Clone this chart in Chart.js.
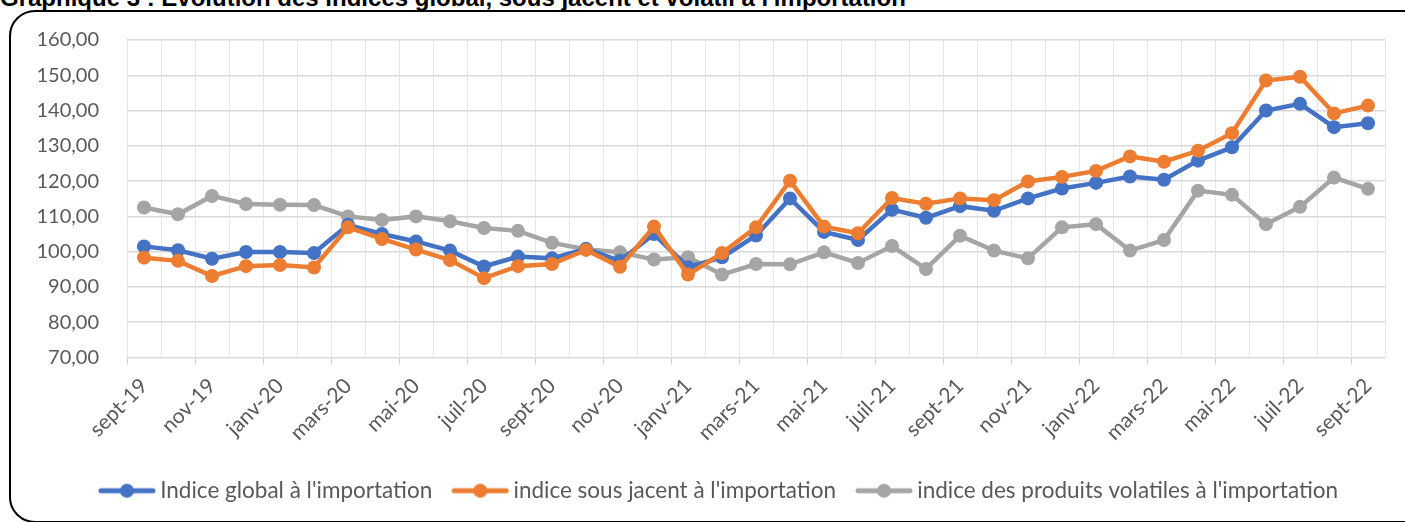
<!DOCTYPE html>
<html>
<head>
<meta charset="utf-8">
<script src="https://cdn.jsdelivr.net/npm/chart.js@4"></script>
<style>
  html, body { margin: 0; padding: 0; background: #fff; overflow: hidden; }
  body { width: 1405px; height: 522px; position: relative; }
  #title {
    position: absolute; left: 0; top: -16px; white-space: pre; line-height: 26px;
    font: bold 24px "Liberation Sans", Arial, sans-serif; color: #000;
  }
  #frame {
    position: absolute; left: 9px; top: 10px; width: 1420px; height: 513px;
    border: 2.5px solid #000; border-radius: 26px; box-sizing: border-box;
  }
  #wrap { position: absolute; left: 0; top: 0; width: 1405px; height: 522px; }
</style>
</head>
<body>
<div id="title">Graphique 3 : Evolution des indices global, sous jacent et volatil à l'importation</div>
<div id="frame"></div>
<div id="wrap"><canvas id="chart" width="1405" height="522"></canvas></div>
<script>
const months = [
  'sept-19', 'oct-19', 'nov-19', 'déc-19', 'janv-20', 'févr-20', 'mars-20', 'avr-20', 'mai-20', 'juin-20',
  'juil-20', 'août-20', 'sept-20', 'oct-20', 'nov-20', 'déc-20', 'janv-21', 'févr-21', 'mars-21', 'avr-21',
  'mai-21', 'juin-21', 'juil-21', 'août-21', 'sept-21', 'oct-21', 'nov-21', 'déc-21', 'janv-22', 'févr-22',
  'mars-22', 'avr-22', 'mai-22', 'juin-22', 'juil-22', 'août-22', 'sept-22'
];

const indiceGlobal = [
  101.5, 100.4, 98.0, 99.9, 99.9, 99.6, 107.6, 105.0, 102.9, 100.3,
  95.8, 98.6, 98.1, 100.8, 97.4, 105.0, 95.6, 98.4, 104.6, 115.1,
  105.6, 103.3, 111.9, 109.6, 112.9, 111.6, 115.1, 117.9, 119.5, 121.3,
  120.4, 125.8, 129.6, 140.0, 141.9, 135.3, 136.4
];

const indiceSousJacent = [
  98.3, 97.4, 93.1, 95.9, 96.2, 95.5, 106.9, 103.6, 100.6, 97.6,
  92.5, 95.9, 96.5, 100.5, 95.7, 107.1, 93.5, 99.6, 106.9, 120.1,
  107.1, 105.2, 115.2, 113.6, 115.1, 114.6, 119.9, 121.2, 122.9, 127.0,
  125.5, 128.6, 133.6, 148.5, 149.6, 139.2, 141.4
];

const indiceVolatil = [
  112.5, 110.6, 115.8, 113.5, 113.3, 113.2, 110.0, 109.0, 110.0, 108.6,
  106.7, 105.9, 102.5, 100.7, 99.8, 97.8, 98.4, 93.5, 96.5, 96.4,
  99.8, 96.8, 101.6, 95.1, 104.5, 100.3, 98.1, 106.9, 107.8, 100.3,
  103.3, 117.3, 116.1, 107.8, 112.7, 121.0, 117.8
];

const seriesNames = [
  "Indice global à l'importation",
  "indice sous jacent à l'importation",
  "indice des produits volatiles à l'importation"
];
const colors = ['#4472C4', '#ED7D31', '#A5A5A5'];

// petit symbole de légende : trait + rond
function legendMark(color) {
  const c = document.createElement('canvas');
  c.width = 58; c.height = 16;
  const g = c.getContext('2d');
  g.strokeStyle = color;
  g.lineWidth = 5;
  g.lineCap = 'round';
  g.beginPath(); g.moveTo(3, 8); g.lineTo(55, 8); g.stroke();
  g.fillStyle = color;
  g.beginPath(); g.arc(29, 8, 7, 0, Math.PI * 2); g.fill();
  return c;
}

// la légende est un peu décalée vers la droite dans l'original
const legendShift = {
  id: 'legendShift',
  afterLayout(chart) {
    chart.legend.left += 24;
    chart.legend.right += 24;
  }
};

const fontFamily = 'Lato, "Open Sans", sans-serif';

const ctx = document.getElementById('chart').getContext('2d');
const chart = new Chart(ctx, {
  type: 'line',
  data: {
    labels: months,
    datasets: [indiceGlobal, indiceSousJacent, indiceVolatil].map((d, i) => ({
      label: seriesNames[i],
      data: d,
      borderColor: colors[i],
      backgroundColor: colors[i],
      borderWidth: 4.5,
      pointRadius: 7,
      pointHoverRadius: 7,
      pointBorderWidth: 0,
      pointStyle: 'circle',
      tension: 0,
      order: i === 0 ? 1 : (i === 1 ? 0 : 2)
    }))
  },
  plugins: [legendShift],
  options: {
    responsive: false,
    animation: false,
    devicePixelRatio: 1,
    layout: { padding: { left: 10, right: 20, top: 31, bottom: 10 } },
    plugins: {
      tooltip: { enabled: false },
      legend: {
        position: 'bottom',
        labels: {
          usePointStyle: true,
          pointStyleWidth: 44,
          padding: 26,
          color: '#595959',
          font: { family: fontFamily, size: 22.5 },
          generateLabels: (chart) => chart.data.datasets.map((ds, i) => ({
            text: ds.label,
            pointStyle: legendMark(colors[i]),
            fillStyle: colors[i],
            strokeStyle: colors[i],
            lineWidth: 0,
            fontColor: '#595959',
            datasetIndex: i
          }))
        }
      }
    },
    scales: {
      x: {
        offset: true,
        grid: {
          offset: true,
          color: '#e6e6e6',
          lineWidth: 1,
          tickLength: 7,
          tickColor: (c) => (c.index % 2 === 0 ? '#d0d0d0' : 'rgba(0,0,0,0)')
        },
        border: { display: false },
        ticks: {
          autoSkip: false,
          maxRotation: 45,
          minRotation: 45,
          padding: 9,
          color: '#595959',
          font: { family: fontFamily, size: 21 },
          callback: function (val, idx) { return idx % 2 === 0 ? this.getLabelForValue(val) : ''; }
        },
        afterFit: (axis) => { axis.height = 96; }
      },
      y: {
        min: 70,
        max: 160,
        grid: { color: '#d9d9d9', lineWidth: 1.5, drawTicks: false },
        border: { display: false },
        ticks: {
          stepSize: 10,
          padding: 28,
          color: '#595959',
          font: { family: fontFamily, size: 20 },
          callback: (v) => v.toFixed(2).replace('.', ',')
        },
        afterFit: (axis) => { axis.width = 117; }
      }
    }
  }
});
</script>
</body>
</html>
